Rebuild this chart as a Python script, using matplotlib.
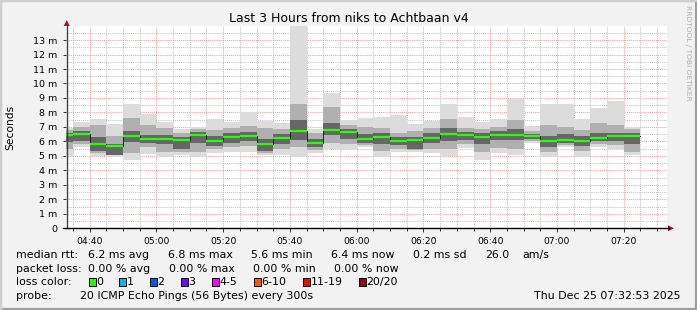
import numpy as np
import matplotlib
matplotlib.use('Agg')
from matplotlib import pyplot as plt
from matplotlib.lines import Line2D
from matplotlib.patches import Polygon, Rectangle
from matplotlib.ticker import MultipleLocator, FuncFormatter

W, H = 697, 310

# 5 minute slots (start of each rrd step)
slots = ['04:30', '04:35', '04:40', '04:45', '04:50', '04:55', '05:00', '05:05', '05:10', '05:15',
         '05:20', '05:25', '05:30', '05:35', '05:40', '05:45', '05:50', '05:55', '06:00', '06:05',
         '06:10', '06:15', '06:20', '06:25', '06:30', '06:35', '06:40', '06:45', '06:50', '06:55',
         '07:00', '07:05', '07:10', '07:15', '07:20']

# rtt in ms: outer smoke (min/max ping), mid smoke, dark core, median
lo = [4.95, 5.62, 5.00, 4.95, 4.70, 5.10, 4.93, 5.05, 4.93, 5.17,
      5.28, 5.30, 5.05, 5.05, 4.93, 5.17, 5.45, 5.44, 5.60, 4.92,
      5.25, 5.25, 5.17, 5.02, 5.58, 4.70, 5.20, 5.05, 5.92, 4.89,
      5.60, 4.95, 5.60, 5.50, 5.05]
hi = [6.95, 7.35, 7.55, 7.20, 8.58, 7.88, 7.33, 6.85, 7.00, 7.55,
      7.33, 8.00, 7.42, 7.28, 13.95, 6.88, 9.35, 7.50, 7.60, 7.66,
      7.82, 7.17, 7.40, 8.55, 7.66, 7.35, 7.58, 8.92, 7.05, 8.56,
      8.56, 7.54, 8.30, 8.78, 7.00]
mid_lo = [5.50, 5.85, 5.20, 5.05, 5.20, 5.60, 5.30, 5.30, 5.30, 5.50,
          5.60, 5.65, 5.20, 5.50, 5.60, 5.40, 5.90, 5.80, 5.75, 5.35,
          5.50, 5.40, 5.50, 5.45, 5.80, 5.30, 5.55, 5.45, 6.00, 5.30,
          5.75, 5.35, 5.85, 5.75, 5.30]
mid_hi = [6.80, 7.00, 7.10, 6.35, 7.60, 7.10, 6.90, 6.60, 6.85, 6.80,
          6.95, 7.05, 6.90, 6.85, 8.60, 6.60, 8.40, 7.10, 7.00, 6.95,
          6.60, 6.75, 6.90, 7.55, 6.95, 6.85, 7.00, 7.50, 6.75, 7.10,
          7.00, 6.80, 7.30, 7.10, 6.85]
core_lo = [5.95, 6.00, 5.35, 5.05, 5.95, 5.90, 5.85, 5.50, 5.90, 5.70,
           5.90, 6.00, 5.35, 5.80, 6.10, 5.60, 6.43, 6.20, 5.90, 5.85,
           5.75, 5.50, 5.90, 6.05, 6.10, 5.80, 6.10, 6.10, 6.20, 5.60,
           5.90, 5.70, 6.05, 6.05, 5.80]
core_hi = [6.60, 6.75, 6.30, 5.85, 6.70, 6.45, 6.45, 6.30, 6.65, 6.40,
           6.60, 6.65, 6.20, 6.50, 7.45, 6.20, 7.30, 6.85, 6.50, 6.60,
           6.30, 6.30, 6.55, 6.95, 6.65, 6.55, 6.70, 6.85, 6.50, 6.40,
           6.50, 6.35, 6.55, 6.60, 6.60]
median = [6.43, 6.52, 5.81, 5.67, 6.38, 6.15, 6.15, 6.08, 6.45, 6.00,
          6.30, 6.38, 5.81, 6.25, 6.70, 5.92, 6.80, 6.62, 6.20, 6.32,
          6.04, 6.08, 6.25, 6.50, 6.43, 6.32, 6.43, 6.43, 6.36, 6.03,
          6.08, 6.02, 6.25, 6.36, 6.36]

loss_labels = ['0', '1', '2', '3', '4-5', '6-10', '11-19', '20/20']
loss_colors = ['#26ff00', '#00b8ff', '#0059ff', '#7e00ff', '#ff00ff', '#ff5500', '#ff0000', '#a10000']

t_start = 4 * 60 + 32 + 53 / 60.0
t_end = t_start + 180
step = 5


def to_min(s):
    h, m = s.split(':')
    return int(h) * 60 + int(m)


def fxy(x, y):
    return x / W, 1 - y / H


def main():
    fig = plt.figure(figsize=(W / 100, H / 100), dpi=100, facecolor='#f2f2f2')

    # frame
    fig.add_artist(Rectangle((0, 0), 1, 1, transform=fig.transFigure, fill=False,
                             edgecolor='#9e9e9e', linewidth=3))
    fig.add_artist(Line2D([0, 0, 1], [0, 1, 1], transform=fig.transFigure, color='#cfcfcf', linewidth=3))

    left, right, top, bottom = 65.8, 666.8, 26.3, 228.3
    ax = fig.add_axes([left / W, 1 - bottom / H, (right - left) / W, (bottom - top) / H])
    ax.set_facecolor('white')
    ax.set_xlim(t_start, t_end)
    ax.set_ylim(0, 13.95)

    x = np.array([to_min(s) for s in slots])
    lo_a, hi_a = np.array(lo), np.array(hi)
    ax.bar(x, hi_a - lo_a, bottom=lo_a, width=step, align='edge', color='#dcdcdc', linewidth=0, zorder=2)
    ax.bar(x, np.array(mid_hi) - np.array(mid_lo), bottom=mid_lo, width=step, align='edge',
           color='#b0b0b0', linewidth=0, zorder=3)
    ax.bar(x, np.array(core_hi) - np.array(core_lo), bottom=core_lo, width=step, align='edge',
           color='#666666', linewidth=0, zorder=4)
    xs = np.append(x, x[-1] + step)
    ys = np.append(median, median[-1])
    ax.step(xs, ys, where='post', color='#202020', linewidth=0.7, zorder=5)
    ax.hlines(median, x, x + step, color='#26ff00', linewidth=1.6, zorder=6)

    # grid
    ax.xaxis.set_major_locator(MultipleLocator(20))
    ax.xaxis.set_minor_locator(MultipleLocator(5))
    ax.yaxis.set_major_locator(MultipleLocator(1))
    ax.yaxis.set_minor_locator(MultipleLocator(0.5))
    ax.grid(which='minor', color='#c4c4c4', linestyle=(0, (1, 1)), linewidth=0.75)
    ax.grid(which='major', color='#f0a0a0', linestyle=(0, (1, 1)), linewidth=0.75)
    for g in ax.get_xgridlines() + ax.get_ygridlines():
        g.set_zorder(7)
    ax.xaxis.set_major_formatter(FuncFormatter(lambda v, p: '%02d:%02d' % (int(v) // 60, int(v) % 60)))
    ax.yaxis.set_major_formatter(FuncFormatter(lambda v, p: '0' if v == 0 else '%d m' % round(v)))
    ax.tick_params(axis='x', which='major', length=3, width=0.7, pad=3, labelsize=6.6, color='#303030')
    ax.tick_params(axis='x', which='minor', length=2, width=0.7, color='#303030')
    ax.tick_params(axis='y', which='major', length=2, width=0.7, pad=4, labelsize=6.8, color='#303030')
    ax.tick_params(axis='y', which='minor', length=0)
    for s in ax.spines.values():
        s.set_visible(False)

    # axis lines with arrows
    fig.add_artist(Line2D(*zip(fxy(66.7, bottom), fxy(66.7, 24)), transform=fig.transFigure,
                          color='#404040', linewidth=1))
    fig.add_artist(Line2D(*zip(fxy(63, bottom), fxy(669, bottom)), transform=fig.transFigure,
                          color='#000000', linewidth=1))
    fig.add_artist(Polygon([fxy(63.7, 26), fxy(69.7, 26), fxy(66.7, 20)], closed=True,
                           transform=fig.transFigure, color='#a01818', linewidth=0))
    fig.add_artist(Polygon([fxy(668, 225.3), fxy(668, 231.3), fxy(674, 228.3)], closed=True,
                           transform=fig.transFigure, color='#a01818', linewidth=0))

    fig.text(*fxy(348.5, 19), 'Last 3 Hours from niks to Achtbaan v4', ha='center', va='center', fontsize=9)
    fig.text(*fxy(10, 127.5), 'Seconds', rotation=90, ha='center', va='center', fontsize=7.7)
    fig.text(*fxy(688, 5), 'RRDTOOL / TOBI OETIKER', rotation=-90, ha='center', va='top',
             fontsize=5.4, color='#b0b0b0')

    fs = 7.9
    r1, r2, r3, r4 = 255, 268.5, 282, 296
    row1 = [(16.4, 'median rtt:'), (87.6, '6.2 ms avg'), (167.6, '6.8 ms max'), (251, '5.6 ms min'),
            (331, '6.4 ms now'), (413, '0.2 ms sd'), (485, '26.0'), (522, 'am/s')]
    row2 = [(16.4, 'packet loss:'), (87.6, '0.00 % avg'), (169, '0.00 % max'), (253, '0.00 % min'),
            (334, '0.00 % now')]
    for xx, s in row1:
        fig.text(*fxy(xx, r1), s, ha='left', va='center', fontsize=fs)
    for xx, s in row2:
        fig.text(*fxy(xx, r2), s, ha='left', va='center', fontsize=fs)
    fig.text(*fxy(16.4, r3), 'loss color:', ha='left', va='center', fontsize=fs)
    box_x = [89, 119.3, 150.3, 181, 212.3, 254.3, 303.3, 359.3]
    for bx, lab, col in zip(box_x, loss_labels, loss_colors):
        x0, y0 = fxy(bx, r3 + 4)
        fig.add_artist(Rectangle((x0, y0), 6.5 / W, 8 / H, transform=fig.transFigure,
                                 facecolor=col, edgecolor='black', linewidth=0.7))
        fig.text(*fxy(bx + 7, r3), lab, ha='left', va='center', fontsize=fs)
    fig.text(*fxy(16.4, r4), 'probe:', ha='left', va='center', fontsize=fs)
    fig.text(*fxy(80, r4), '20 ICMP Echo Pings (56 Bytes) every 300s', ha='left', va='center', fontsize=fs)
    fig.text(*fxy(681, r4), 'Thu Dec 25 07:32:53 2025', ha='right', va='center', fontsize=fs)

    fig.savefig('out.png', dpi=100, facecolor=fig.get_facecolor())


if __name__ == '__main__':
    main()
